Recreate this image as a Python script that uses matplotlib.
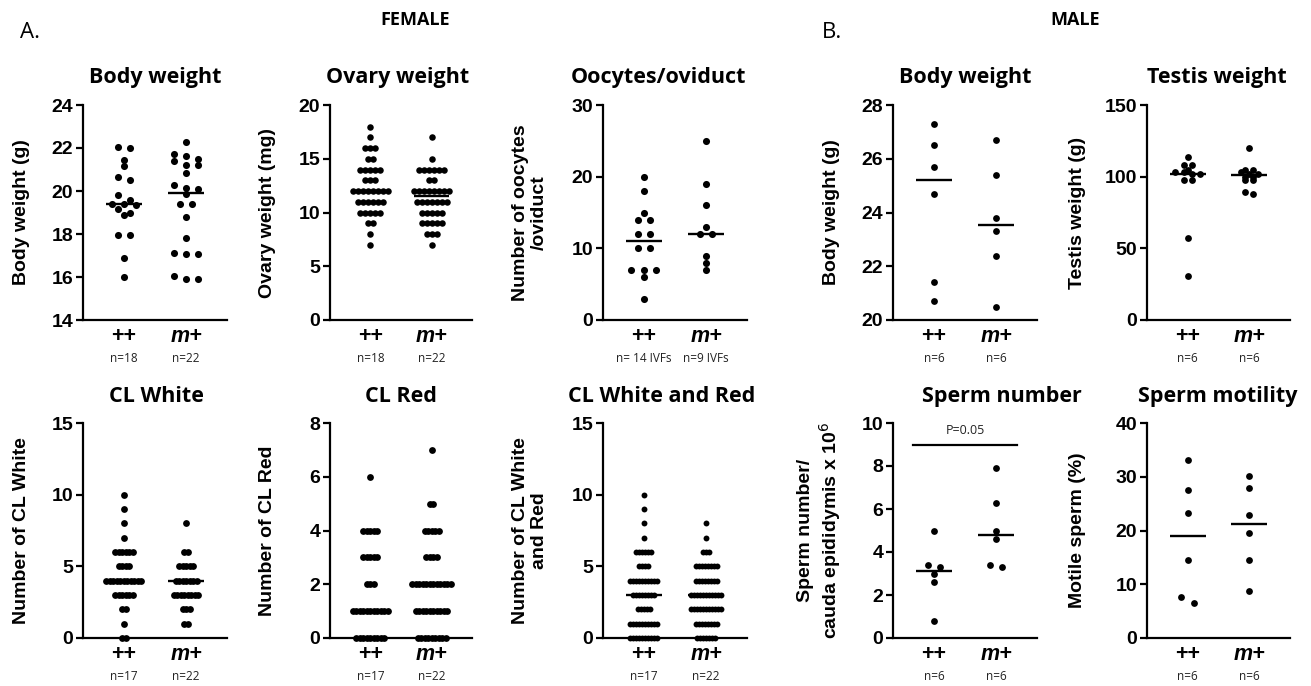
import matplotlib
matplotlib.use("Agg")
import matplotlib.pyplot as plt
import matplotlib.transforms as mtransforms
import numpy as np

W, H = 1311, 686
groups = ["++", "m+"]

# ---------------- FEMALE data ----------------
bw_f_wt = [22.0, 22.05, 21.45, 21.15, 20.65, 20.5, 19.8, 19.6, 19.4, 19.4, 19.35,
           19.15, 19.0, 18.9, 17.95, 17.95, 16.9, 16.0]
bw_f_mut = [22.3, 21.7, 21.65, 21.5, 21.4, 21.2, 21.2, 20.85, 20.3, 20.15, 20.1,
            19.85, 19.4, 19.4, 18.8, 17.8, 17.1, 17.05, 17.05, 16.05, 15.9, 15.9]
bw_f_med = [19.4, 19.9]

ov_wt_vals = [18, 17, 16, 15, 14, 13, 12, 11, 10, 9, 8, 7]
ov_wt_cnts = [1, 1, 3, 2, 5, 3, 8, 6, 5, 2, 1, 1]
ov_mut_vals = [17, 15, 14, 13, 12, 11, 10, 9, 8, 7]
ov_mut_cnts = [1, 1, 6, 2, 8, 7, 5, 5, 3, 1]
ov_med = [12, 11.5]

oo_wt_vals = [20, 18, 15, 14, 12, 10, 7, 6, 3]
oo_wt_cnts = [1, 1, 1, 2, 2, 2, 3, 1, 1]
oo_mut_vals = [25, 19, 16, 13, 12, 9, 8, 7]
oo_mut_cnts = [1, 1, 1, 1, 2, 1, 1, 1]
oo_med = [11, 12]

clw_wt_vals = [10, 9, 8, 7, 6, 5, 4, 3, 2, 1, 0]
clw_wt_cnts = [1, 1, 1, 1, 6, 4, 11, 6, 2, 1, 2]
clw_mut_vals = [8, 6, 5, 4, 3, 2, 1]
clw_mut_cnts = [1, 2, 5, 7, 8, 3, 2]
clw_med = [4, 4]

clr_wt_vals = [6, 4, 3, 2, 1, 0]
clr_wt_cnts = [1, 5, 5, 3, 11, 9]
clr_mut_vals = [7, 5, 4, 3, 2, 1, 0]
clr_mut_cnts = [1, 2, 5, 4, 12, 10, 9]
clr_med = [1, 1]

clwr_wt_vals = [10, 9, 8, 7, 6, 5, 4, 3, 2, 1, 0]
clwr_wt_cnts = [1, 1, 1, 1, 6, 4, 10, 8, 5, 10, 10]
clwr_mut_vals = [8, 7, 6, 5, 4, 3, 2, 1, 0]
clwr_mut_cnts = [1, 1, 3, 8, 8, 11, 11, 8, 7]
clwr_med = [3, 3]

# ---------------- MALE data ----------------
bw_m_wt = [27.3, 26.5, 25.7, 24.7, 21.4, 20.7]
bw_m_mut = [26.7, 25.4, 23.8, 23.3, 22.4, 20.5]
bw_m_med = [25.2, 23.55]

tw_wt = [114, 108, 108, 105, 103, 103, 102, 102, 98, 98, 57, 31]
tw_mut = [120, 105, 105, 103, 102, 102, 100, 100, 98, 98, 89, 88]
tw_med = [102, 101]

sn_wt = [5.0, 3.4, 3.3, 3.0, 2.6, 0.8]
sn_mut = [7.9, 6.3, 5.0, 4.6, 3.4, 3.3]
sn_med = [3.1, 4.8]

sm_wt = [33.2, 27.6, 23.2, 14.5, 7.6, 6.6]
sm_mut = [30.1, 28.0, 22.8, 19.6, 14.6, 8.7]
sm_med = [18.9, 21.2]

n_female = ["n=18", "n=22"]
n_oocyte = ["n= 14 IVFs", "n=9 IVFs"]
n_cl = ["n=17", "n=22"]
n_male = ["n=6", "n=6"]

TICKFONT = "Liberation Sans"
TITLEFONT = "Open Sans"

fig = plt.figure(figsize=(W / 100, H / 100), dpi=100)
XLIM = (-0.66, 1.66)


def expand(vals, cnts):
    return np.repeat(np.array(vals, float), cnts)


def make_axes(l, t, r, b):
    return fig.add_axes([l / W, 1 - b / H, (r - l) / W, (b - t) / H])


def positions(vals, center, gap, ppx, ppy, thresh):
    """Group values lying within `thresh` pixels of the first value of a row
    into that row, then center each row with spacing `gap` pixels."""
    vals = np.asarray(vals, float)
    xs = np.zeros(len(vals))
    order = np.argsort(-vals, kind="stable")
    clusters = []
    cur = [order[0]]
    for i in order[1:]:
        if (vals[cur[0]] - vals[i]) * ppy <= thresh:
            cur.append(i)
        else:
            clusters.append(cur)
            cur = [i]
    clusters.append(cur)
    for cl in clusters:
        n = len(cl)
        for k, i in enumerate(cl):
            xs[i] = center + (k - (n - 1) / 2) * gap / ppx
    return xs


def panel(box, data, meds, ylim, yticks, ylabel, ylabel_px, title, title_px,
          nlabels, thresh, gap, dot, halfw=0.29):
    l, t, r, b = box
    ax = make_axes(l, t, r, b)
    ax.set_xlim(*XLIM)
    ax.set_ylim(*ylim)
    ppx = (r - l) / (XLIM[1] - XLIM[0])
    ppy = (b - t) / (ylim[1] - ylim[0])
    for gi, vals in enumerate(data):
        xs = positions(vals, gi, gap, ppx, ppy, thresh)
        ax.scatter(xs, vals, s=dot, color="black", linewidths=0,
                   clip_on=False, zorder=3)
        ax.hlines(meds[gi], gi - halfw, gi + halfw, color="black", lw=1.7,
                  zorder=4)
    for s in ["top", "right"]:
        ax.spines[s].set_visible(False)
    for s in ["left", "bottom"]:
        ax.spines[s].set_linewidth(1.6)
    ax.set_yticks(yticks)
    ax.set_yticklabels([str(v) for v in yticks], fontsize=14,
                       fontweight="bold", family=TICKFONT)
    ax.tick_params(axis="y", length=5, width=1.6, pad=2)
    ax.set_xticks([0, 1])
    labs = ax.set_xticklabels(groups, fontsize=15.5, fontweight="bold",
                              family=TICKFONT)
    labs[1].set_fontstyle("italic")
    ax.tick_params(axis="x", length=0, pad=4)
    tr = mtransforms.blended_transform_factory(ax.transData, ax.transAxes)
    for gi, nl in enumerate(nlabels):
        ax.text(gi, -38 / (b - t), nl, transform=tr, ha="center",
                va="center", fontsize=8.5, family=TITLEFONT, color="#222222")
    fig.text(ylabel_px / W, 1 - ((t + b) / 2) / H, ylabel, rotation=90,
             ha="center", va="center", fontsize=14, fontweight="bold",
             family=TICKFONT, multialignment="center", linespacing=1.2)
    fig.text(title_px / W, 1 - (t - 27) / H, title, ha="center",
             va="center", fontsize=15.5, fontweight="bold", family=TITLEFONT)
    ax.patch.set_alpha(0)
    return ax


R1 = (105, 320)
R2 = (423, 638)
C = [(83, 227), (330, 472), (603, 747), (893, 1037), (1147, 1290)]


def box(ci, row):
    return (C[ci][0], row[0], C[ci][1], row[1])


# Row 1
panel(box(0, R1), [bw_f_wt, bw_f_mut], bw_f_med, (14, 24), [14, 16, 18, 20, 22, 24],
      "Body weight (g)", 22, "Body weight", 155, n_female, 4.5, 11.7, 26)
panel(box(1, R1), [expand(ov_wt_vals, ov_wt_cnts), expand(ov_mut_vals, ov_mut_cnts)],
      ov_med, (0, 20), [0, 5, 10, 15, 20], "Ovary weight (mg)", 268,
      "Ovary weight", 398, n_female, 0.5, 5.0, 22)
panel(box(2, R1), [expand(oo_wt_vals, oo_wt_cnts), expand(oo_mut_vals, oo_mut_cnts)],
      oo_med, (0, 30), [0, 10, 20, 30], "Number of oocytes\n/oviduct", 530,
      "Oocytes/oviduct", 658, n_oocyte, 0.5, 12.5, 26)
panel(box(3, R1), [bw_m_wt, bw_m_mut], bw_m_med, (20, 28), [20, 22, 24, 26, 28],
      "Body weight (g)", 832, "Body weight", 965, n_male, 5, 12, 24)
panel(box(4, R1), [tw_wt, tw_mut], tw_med, (0, 150), [0, 50, 100, 150],
      "Testis weight (g)", 1078, "Testis weight", 1217, n_male, 2.5, 8.3, 24)

# Row 2
panel(box(0, R2), [expand(clw_wt_vals, clw_wt_cnts), expand(clw_mut_vals, clw_mut_cnts)],
      clw_med, (0, 15), [0, 5, 10, 15], "Number of CL White", 22,
      "CL White", 156, n_cl, 0.5, 3.5, 24)
panel(box(1, R2), [expand(clr_wt_vals, clr_wt_cnts), expand(clr_mut_vals, clr_mut_cnts)],
      clr_med, (0, 8), [0, 2, 4, 6, 8], "Number of CL Red", 268,
      "CL Red", 401, n_cl, 0.5, 3.5, 24)
panel(box(2, R2), [expand(clwr_wt_vals, clwr_wt_cnts), expand(clwr_mut_vals, clwr_mut_cnts)],
      clwr_med, (0, 15), [0, 5, 10, 15], "Number of CL White\nand Red", 530,
      "CL White and Red", 662, n_cl, 0.5, 3.0, 18)
ax_sn = panel(box(3, R2), [sn_wt, sn_mut], sn_med, (0, 10), [0, 2, 4, 6, 8, 10],
              "Sperm number/\ncauda epididymis x 10$^6$", 820, "Sperm number",
              1002, n_male, 5, 12.5, 24)
panel(box(4, R2), [sm_wt, sm_mut], sm_med, (0, 40), [0, 10, 20, 30, 40],
      "Motile sperm (%)", 1078, "Sperm motility", 1218, n_male, 6, 12.5, 24)

# significance bar
ax_sn.plot([-0.33, 1.33], [9, 9], color="black", lw=1.6, clip_on=False)
ax_sn.text(0.5, 9.35, "P=0.05", ha="center", va="bottom", fontsize=9,
           family=TITLEFONT, color="#222222")

# headers
fig.text(20 / W, 1 - 32 / H, "A.", fontsize=16, family=TITLEFONT, va="center")
fig.text(822 / W, 1 - 32 / H, "B.", fontsize=16, family=TITLEFONT, va="center")
fig.text(415 / W, 1 - 20 / H, "FEMALE", fontsize=13, fontweight="bold",
         family=TITLEFONT, ha="center", va="center")
fig.text(1075 / W, 1 - 20 / H, "MALE", fontsize=13, fontweight="bold",
         family=TITLEFONT, ha="center", va="center")

fig.savefig("out.png", dpi=100)
